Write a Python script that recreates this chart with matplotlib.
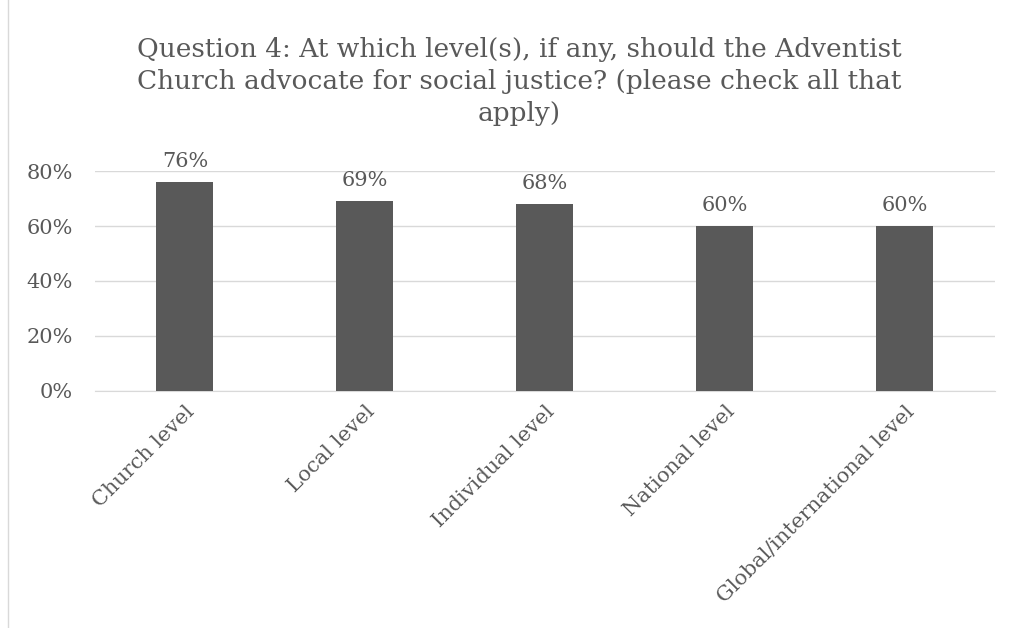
import numpy as np
import matplotlib.pyplot as plt
from matplotlib.ticker import PercentFormatter

categories = ["Church level", "Local level", "Individual level", "National level",
              "Global/international level"]
values = [0.76, 0.69, 0.68, 0.60, 0.60]
yticks = [0, 0.2, 0.4, 0.6, 0.8]

plt.rcParams['font.family'] = ['DejaVu Serif']
grey = '#595959'

fig = plt.figure(figsize=(10.13, 6.28), dpi=100)
ax = fig.add_axes([0.0938, 0.3774, 0.888, 0.3503])

x = np.arange(len(categories))
bars = ax.bar(x, values, width=0.317, color=grey, zorder=3)
for b, v in zip(bars, values):
    ax.text(b.get_x() + b.get_width() / 2, v + 0.04, f"{v:.0%}", ha='center',
            va='bottom', fontsize=15, color=grey)

ax.set_xlim(-0.5, len(categories) - 0.5)
ax.set_ylim(0, 0.8)
ax.set_yticks(yticks)
ax.yaxis.set_major_formatter(PercentFormatter(1.0, decimals=0))
ax.grid(axis='y', color='#d9d9d9', linewidth=1, zorder=0)
for s in ['top', 'right', 'left']:
    ax.spines[s].set_visible(False)
ax.spines['bottom'].set_color('#d9d9d9')
ax.tick_params(axis='both', length=0, colors=grey, labelsize=15)
ax.tick_params(axis='y', pad=16)
ax.tick_params(axis='x', pad=8)
ax.set_xticks(x)
ax.set_xticklabels(categories, rotation=45, ha='right', rotation_mode='anchor')

fig.text(0.513, 0.87,
         "Question 4: At which level(s), if any, should the Adventist\n"
         "Church advocate for social justice? (please check all that\napply)",
         ha='center', va='center', fontsize=19, color=grey, linespacing=1.35)

# chart frame edge
fig.add_artist(plt.Line2D([0.008, 0.008], [0, 1], color='#d9d9d9', lw=1,
                          transform=fig.transFigure))

fig.savefig("out.png", dpi=100)
